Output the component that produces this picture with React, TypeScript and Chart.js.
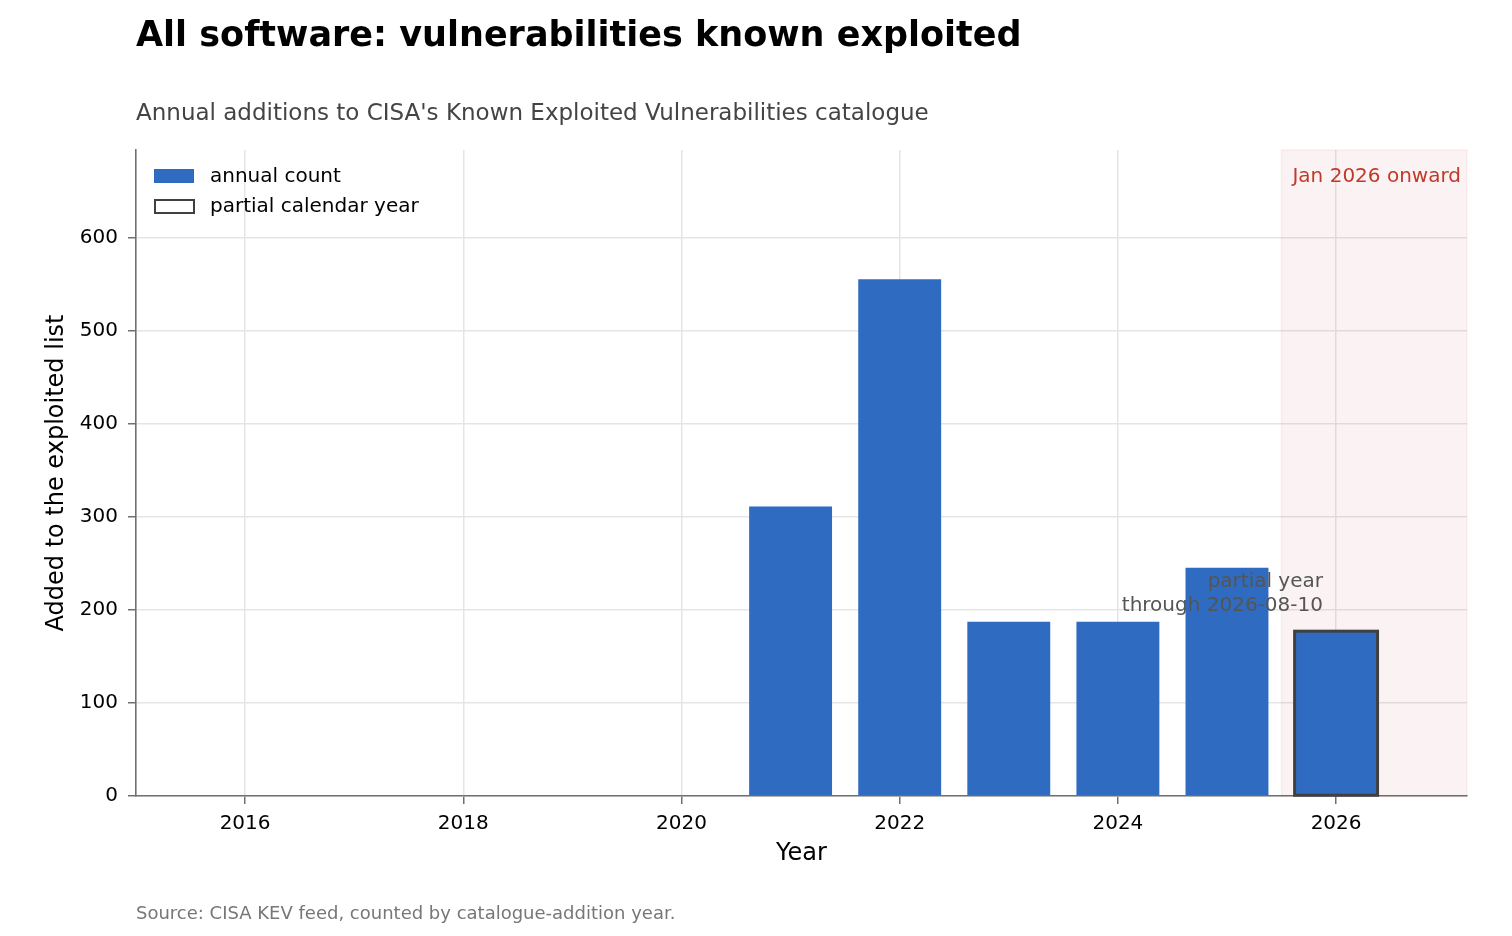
import { useEffect, useRef } from "react";
import Chart from "chart.js/auto";
import type { ChartConfiguration, Plugin } from "chart.js/auto";

// catalogue additions per calendar year (2026 is partial)
const years = [2021, 2022, 2023, 2024, 2025, 2026];
const counts = [311, 555, 187, 187, 245, 177];
const partialYear = 2026;
const partialThrough = "2026-08-10";
const shadeFrom = 2025.5;

const xTicks = [2016, 2018, 2020, 2022, 2024, 2026];
const yTicks = [0, 100, 200, 300, 400, 500, 600];
const xMin = 2015;
const xMax = 2027.2;
const yMax = 693.75;

const FONT = "'DejaVu Sans', sans-serif";
const BLUE = "#2f6bc1";
const RED = "#c0392b";
const EDGE = "#404040";
const SPINE = "#707070";

const decorations: Plugin<"bar"> = {
  id: "decorations",
  beforeDatasetsDraw(chart) {
    const { ctx, chartArea, scales } = chart;
    const x0 = scales.x.getPixelForValue(shadeFrom);
    ctx.save();
    ctx.fillStyle = "rgba(192,57,43,0.06)";
    ctx.strokeStyle = "rgba(192,57,43,0.07)";
    ctx.lineWidth = 1.5;
    ctx.fillRect(x0, chartArea.top, chartArea.right - x0, chartArea.bottom - chartArea.top);
    ctx.strokeRect(x0, chartArea.top, chartArea.right - x0, chartArea.bottom - chartArea.top);
    ctx.restore();
  },
  afterDatasetsDraw(chart) {
    const { ctx, chartArea, scales } = chart;
    const meta = chart.getDatasetMeta(0);
    const idx = years.indexOf(partialYear);
    const bar = meta.data[idx] as any;
    ctx.save();
    if (bar) {
      ctx.strokeStyle = EDGE;
      ctx.lineWidth = 3;
      ctx.strokeRect(bar.x - bar.width / 2, bar.y, bar.width, bar.base - bar.y);
    }

    // partial-year note, right aligned just left of the 2026 tick
    ctx.fillStyle = "#555555";
    ctx.font = `20px ${FONT}`;
    ctx.textAlign = "right";
    ctx.textBaseline = "alphabetic";
    const nx = scales.x.getPixelForValue(partialYear - 0.12);
    const ny = scales.y.getPixelForValue(counts[idx] + 21.5);
    ctx.fillText("partial year", nx, ny - 24);
    ctx.fillText(`through ${partialThrough}`, nx, ny);

    ctx.fillStyle = RED;
    ctx.fillText("Jan 2026 onward", chartArea.right - 6, chartArea.top + 32);

    // legend
    const lx = chartArea.left + 18;
    ctx.fillStyle = BLUE;
    ctx.fillRect(lx, 169, 40, 14);
    ctx.fillStyle = "#ffffff";
    ctx.fillRect(lx + 1, 200, 39, 13);
    ctx.strokeStyle = EDGE;
    ctx.lineWidth = 2;
    ctx.strokeRect(lx + 1, 200, 39, 13);
    ctx.fillStyle = "#000000";
    ctx.textAlign = "left";
    ctx.textBaseline = "middle";
    ctx.fillText("annual count", lx + 56, 177);
    ctx.fillText("partial calendar year", lx + 56, 207);
    ctx.restore();
  },
  afterDraw(chart) {
    const { ctx, chartArea } = chart;
    ctx.save();
    ctx.textBaseline = "alphabetic";
    ctx.textAlign = "left";
    ctx.fillStyle = "#000000";
    ctx.font = `bold 35px ${FONT}`;
    ctx.fillText("All software: vulnerabilities known exploited", 136, 46);

    ctx.fillStyle = "#444444";
    ctx.font = `23px ${FONT}`;
    ctx.fillText("Annual additions to CISA's Known Exploited Vulnerabilities catalogue", 136, 120);

    ctx.fillStyle = "#777777";
    ctx.font = `18px ${FONT}`;
    ctx.fillText("Source: CISA KEV feed, counted by catalogue-addition year.", 136, 919);

    ctx.fillStyle = "#000000";
    ctx.font = `24px ${FONT}`;
    ctx.textAlign = "center";
    ctx.textBaseline = "middle";
    ctx.fillText("Year", (chartArea.left + chartArea.right) / 2, 854);

    ctx.translate(57, (chartArea.top + chartArea.bottom) / 2);
    ctx.rotate(-Math.PI / 2);
    ctx.fillText("Added to the exploited list", 0, 0);
    ctx.restore();
  },
};

export default function App() {
  const canvasRef = useRef<HTMLCanvasElement | null>(null);

  useEffect(() => {
    document.body.style.margin = "0";
    const ctx = canvasRef.current?.getContext("2d");
    if (!ctx) return;

    const config: ChartConfiguration<"bar"> = {
      type: "bar",
      data: {
        datasets: [
          {
            label: "annual count",
            data: years.map((y, i) => ({ x: y, y: counts[i] })) as any,
            backgroundColor: BLUE,
            borderWidth: 0,
            categoryPercentage: 1,
            barPercentage: 0.76,
          },
        ],
      },
      options: {
        animation: false,
        responsive: true,
        maintainAspectRatio: false,
        layout: { padding: { top: 150, right: 45, bottom: 0, left: 0 } },
        plugins: {
          legend: { display: false },
          tooltip: { enabled: false },
        },
        scales: {
          x: {
            type: "linear",
            min: xMin,
            max: xMax,
            offset: false,
            afterFit: (s) => {
              s.height = 140;
            },
            afterBuildTicks: (s) => {
              s.ticks = xTicks.map((v) => ({ value: v }));
            },
            grid: {
              offset: false,
              color: "#e5e5e5",
              lineWidth: 1.5,
              tickColor: SPINE,
              tickLength: 8,
              tickWidth: 1.5,
            },
            border: { display: true, color: SPINE, width: 1.6 },
            ticks: {
              color: "#000000",
              font: { family: FONT, size: 20 },
              padding: 8,
              maxRotation: 0,
              callback: (v) => String(v),
            },
          },
          y: {
            type: "linear",
            min: 0,
            max: yMax,
            afterFit: (s) => {
              s.width = 136;
            },
            afterBuildTicks: (s) => {
              s.ticks = yTicks.map((v) => ({ value: v }));
            },
            grid: {
              color: "#e5e5e5",
              lineWidth: 1.5,
              tickColor: SPINE,
              tickLength: 8,
              tickWidth: 1.5,
            },
            border: { display: true, color: SPINE, width: 1.6 },
            ticks: {
              color: "#000000",
              font: { family: FONT, size: 20 },
              padding: 10,
              callback: (v) => String(v),
            },
          },
        },
      },
      plugins: [decorations],
    };

    const chart = new Chart(ctx, config);
    return () => chart.destroy();
  }, []);

  return (
    <div style={{ position: "relative", width: 1512, height: 936, background: "#ffffff" }}>
      <canvas ref={canvasRef} />
    </div>
  );
}
